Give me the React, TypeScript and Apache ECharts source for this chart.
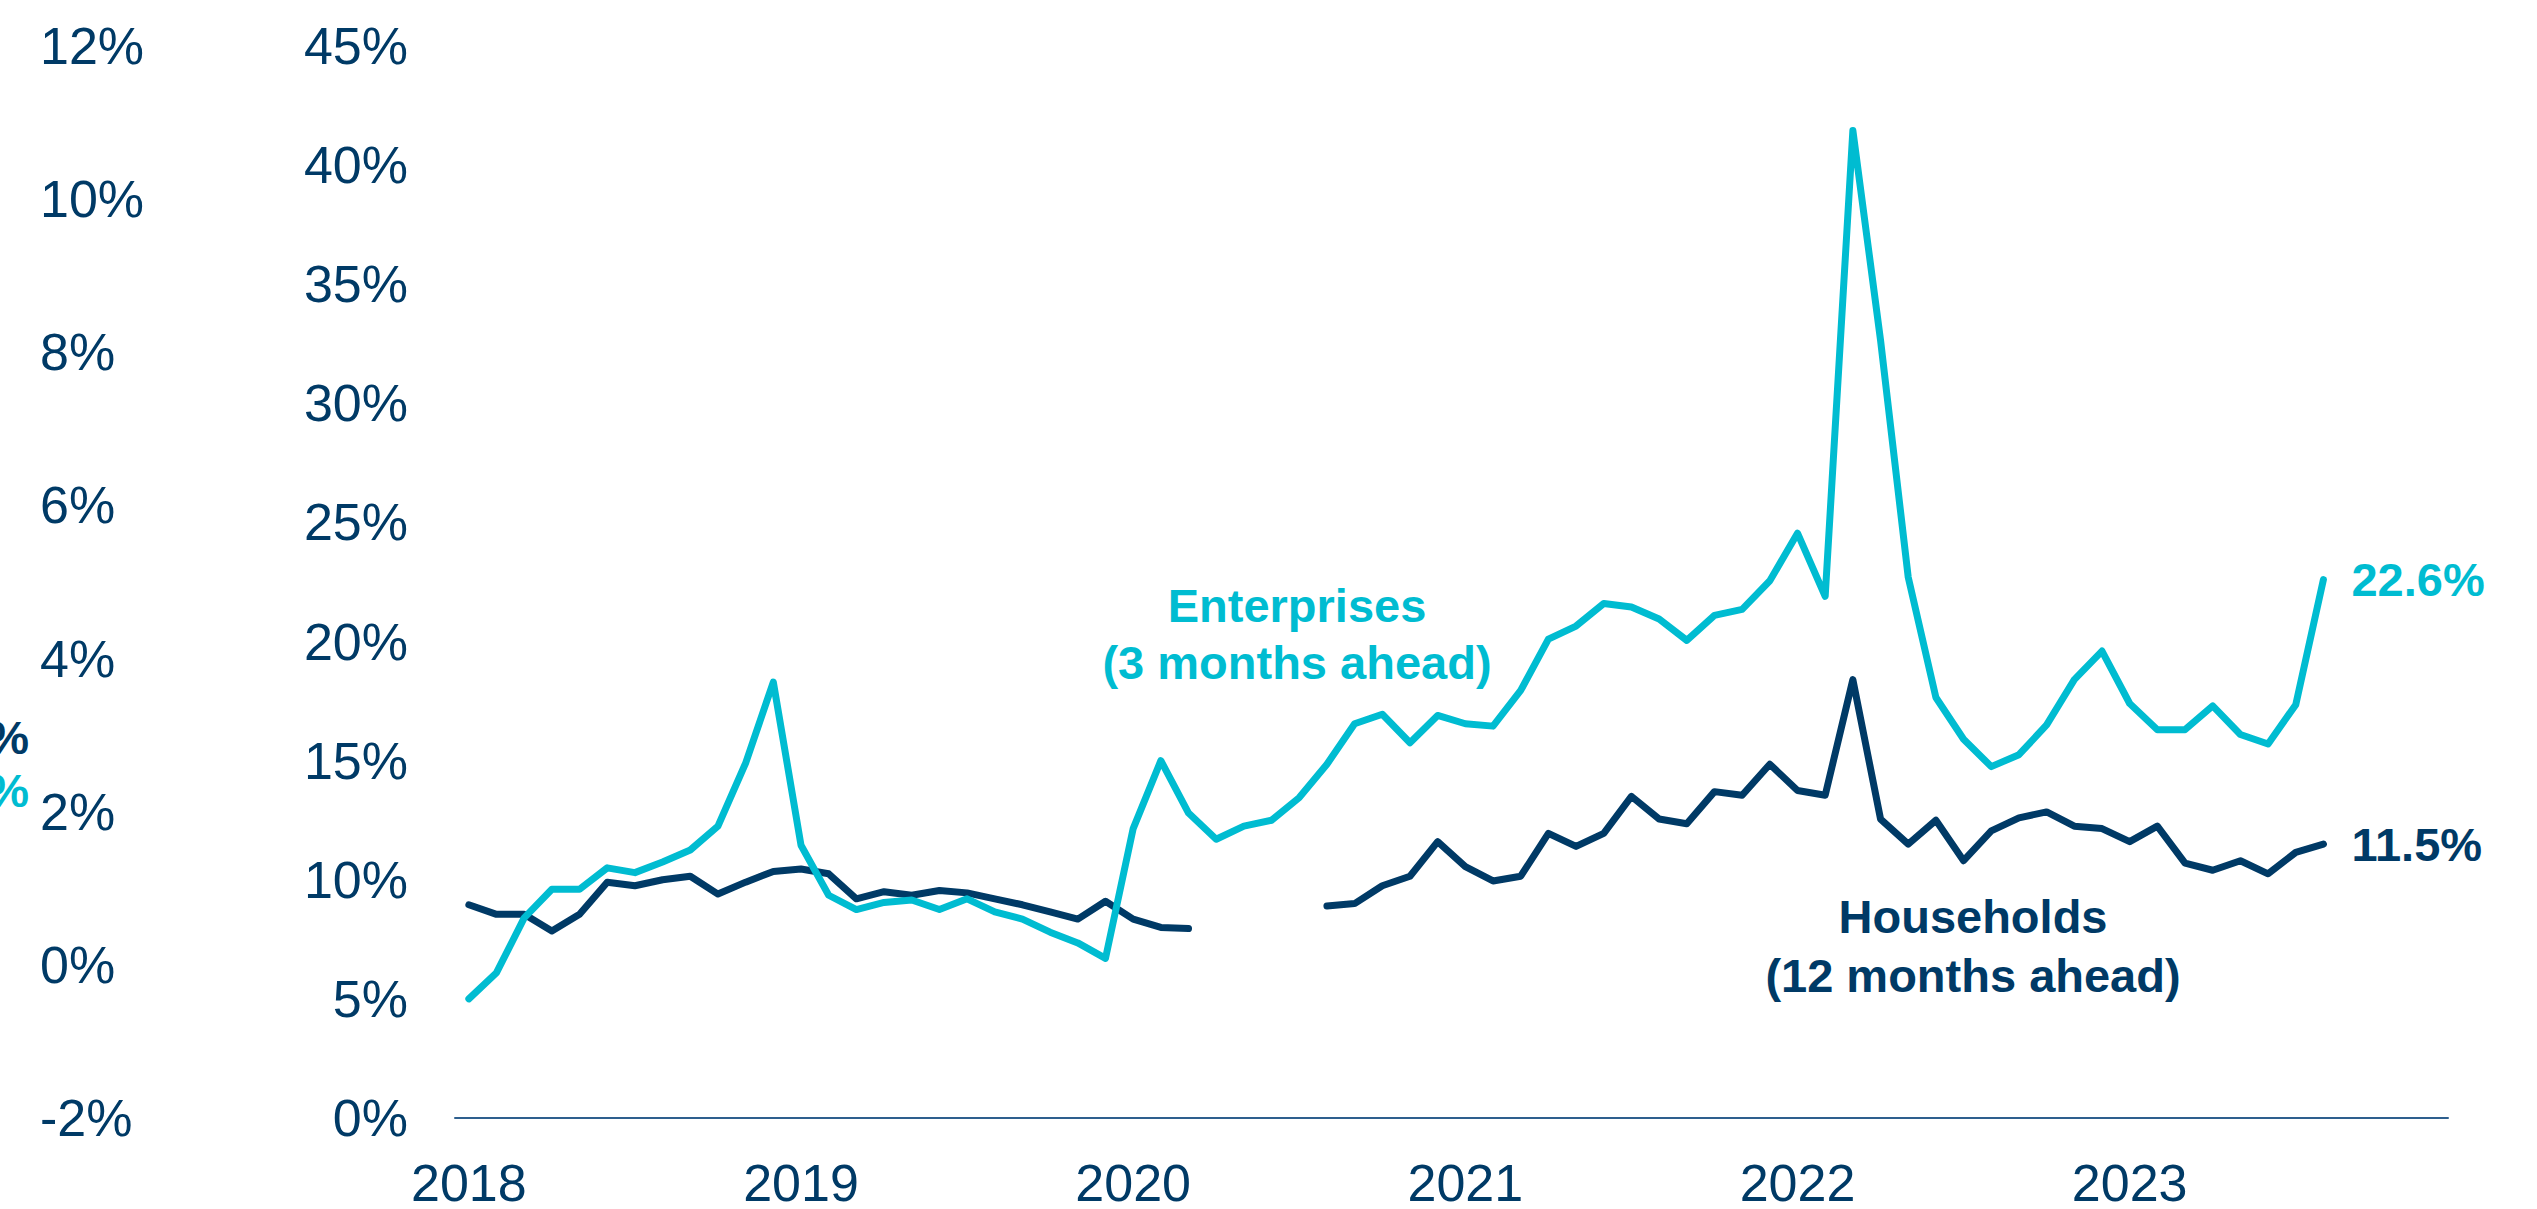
import React, { useEffect, useRef } from "react";
import * as echarts from "echarts";

const years = [2018, 2019, 2020, 2021, 2022, 2023];
const monthsPerYear = 12;

const enterprises = [
  5.0, 6.1, 8.4, 9.6, 9.6, 10.5, 10.3, 10.75, 11.25, 12.25, 14.9, 18.3,
  11.45, 9.35, 8.75, 9.05, 9.15, 8.75, 9.2, 8.65, 8.35, 7.8, 7.35, 6.7,
  12.15, 15.0, 12.8, 11.7, 12.25, 12.5, 13.45, 14.85, 16.55, 16.95, 15.75, 16.9,
  16.55, 16.45, 17.95, 20.1, 20.65, 21.6, 21.45, 20.95, 20.05, 21.1, 21.35, 22.55,
  24.55, 21.9, 41.45, 32.65, 22.7, 17.65, 15.9, 14.75, 15.25, 16.5, 18.4, 19.6,
  17.4, 16.3, 16.3, 17.3, 16.1, 15.7, 17.35, 22.6,
];

const households = [
  8.95, 8.55, 8.55, 7.85, 8.55, 9.9, 9.75, 10.0, 10.15, 9.4, 9.9, 10.35,
  10.45, 10.25, 9.2, 9.5, 9.35, 9.55, 9.45, 9.2, 8.95, 8.65, 8.35, 9.1,
  8.35, 8.0, 7.95, null, null, null, null, 8.9, 9.0, 9.75, 10.15, 11.6,
  10.55, 9.95, 10.15, 11.95, 11.4, 11.95, 13.5, 12.55, 12.35, 13.7, 13.55, 14.85,
  13.75, 13.55, 18.4, 12.55, 11.5, 12.5, 10.8, 12.05, 12.6, 12.85, 12.25, 12.15,
  11.6, 12.25, 10.7, 10.4, 10.8, 10.25, 11.15, 11.5,
];

const rightAxis = { min: 0, max: 45, interval: 5 };
const leftAxis = { min: -2, max: 12, interval: 2 };

const enterpriseLabel = ["Enterprises", "(3 months ahead)"];
const householdLabel = ["Households", "(12 months ahead)"];
const clippedLabels = ["2.9%", "2.3%"];

const CYAN = "#00BCD1";
const NAVY = "#003A66";
const AXIS = "#2E5F8E";
const FONT = "'Liberation Sans', Arial, Helvetica, sans-serif";

const categories: string[] = [];
years.forEach((y) => {
  for (let m = 1; m <= monthsPerYear; m++) {
    categories.push(`${y}-${String(m).padStart(2, "0")}`);
  }
});

function pad(arr: (number | null)[]) {
  const out = arr.slice();
  while (out.length < categories.length) out.push(null);
  return out;
}

export default function App() {
  const ref = useRef<HTMLDivElement>(null);
  useEffect(() => {
    if (!ref.current) return;
    const chart = echarts.init(ref.current, undefined, { renderer: "svg" });
    chart.setOption({
      animation: false,
      backgroundColor: "#ffffff",
      grid: { left: 455, right: 89, top: 46, bottom: 87, containLabel: false },
      xAxis: {
        type: "category",
        data: categories,
        boundaryGap: true,
        axisLine: { show: true, lineStyle: { color: AXIS, width: 2 } },
        axisTick: { show: false },
        splitLine: { show: false },
        axisLabel: {
          interval: (idx: number) => idx % monthsPerYear === 0,
          formatter: (v: string) => v.slice(0, 4),
          color: NAVY,
          fontSize: 52,
          fontFamily: FONT,
          margin: 39,
        },
      },
      yAxis: [
        {
          type: "value",
          position: "left",
          min: rightAxis.min,
          max: rightAxis.max,
          interval: rightAxis.interval,
          axisLine: { show: false },
          axisTick: { show: false },
          splitLine: { show: false },
          axisLabel: {
            formatter: "{value}%",
            color: NAVY,
            fontSize: 52,
            fontFamily: FONT,
            margin: 47,
          },
        },
        {
          type: "value",
          position: "left",
          min: leftAxis.min,
          max: leftAxis.max,
          interval: leftAxis.interval,
          axisLine: { show: false },
          axisTick: { show: false },
          splitLine: { show: false },
          axisLabel: {
            formatter: "{value}%",
            color: NAVY,
            fontSize: 52,
            fontFamily: FONT,
            align: "left",
            margin: 415,
          },
        },
      ],
      series: [
        {
          name: "Households",
          type: "line",
          yAxisIndex: 0,
          data: pad(households),
          symbol: "none",
          connectNulls: false,
          lineStyle: { color: NAVY, width: 7, join: "round", cap: "round" },
          itemStyle: { color: NAVY },
          endLabel: {
            show: true,
            formatter: (p: any) => `${Number(p.value).toFixed(1)}%`,
            color: NAVY,
            fontSize: 47,
            fontWeight: "bold",
            fontFamily: FONT,
            distance: 28,
          },
        },
        {
          name: "Enterprises",
          type: "line",
          yAxisIndex: 0,
          data: pad(enterprises),
          symbol: "none",
          lineStyle: { color: CYAN, width: 7, join: "round", cap: "round" },
          itemStyle: { color: CYAN },
          endLabel: {
            show: true,
            formatter: (p: any) => `${Number(p.value).toFixed(1)}%`,
            color: CYAN,
            fontSize: 47,
            fontWeight: "bold",
            fontFamily: FONT,
            distance: 28,
          },
        },
      ],
      graphic: [
        {
          type: "text",
          x: 1297,
          y: 634,
          style: {
            text: enterpriseLabel.join("\n"),
            fill: CYAN,
            font: `bold 47px ${FONT}`,
            textAlign: "center",
            textVerticalAlign: "middle",
            lineHeight: 57,
          },
        },
        {
          type: "text",
          x: 1973,
          y: 946,
          style: {
            text: householdLabel.join("\n"),
            fill: NAVY,
            font: `bold 47px ${FONT}`,
            textAlign: "center",
            textVerticalAlign: "middle",
            lineHeight: 59,
          },
        },
        {
          type: "text",
          x: 29,
          y: 737,
          style: {
            text: clippedLabels[0],
            fill: NAVY,
            font: `bold 47px ${FONT}`,
            textAlign: "right",
            textVerticalAlign: "middle",
          },
        },
        {
          type: "text",
          x: 29,
          y: 790,
          style: {
            text: clippedLabels[1],
            fill: CYAN,
            font: `bold 47px ${FONT}`,
            textAlign: "right",
            textVerticalAlign: "middle",
          },
        },
      ],
    });
    return () => chart.dispose();
  }, []);
  return (
    <div
      ref={ref}
      style={{ position: "absolute", left: 0, top: 0, width: 2537, height: 1209 }}
    />
  );
}
